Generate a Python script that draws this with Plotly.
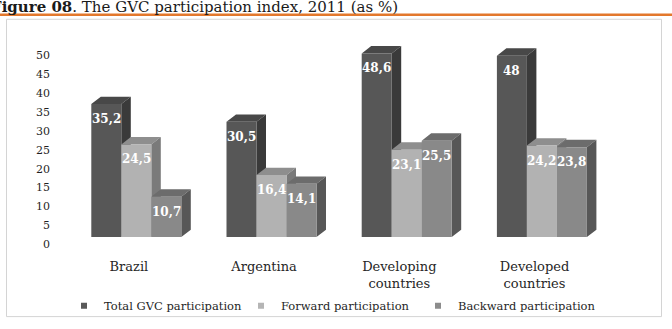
import plotly.graph_objects as go

# ---------------- data ----------------
categories = ["Brazil", "Argentina", "Developing<br>countries", "Developed<br>countries"]
series_names = ["Total GVC participation", "Forward participation", "Backward participation"]
total_gvc = [35.2, 30.5, 48.6, 48]
forward_part = [24.5, 16.4, 23.1, 24.2]
backward_part = [10.7, 14.1, 25.5, 23.8]
y_ticks = [0, 5, 10, 15, 20, 25, 30, 35, 40, 45, 50]
title_text = "<b>Figure 08</b>. The GVC participation index, 2011 (as %)"

# ---------------- style ----------------
W, H = 672, 329
PX_PER_CAT = 135.2
CAT0_PX = 128.9
X_LEFT = CAT0_PX - 0.5 * PX_PER_CAT
X_RIGHT = CAT0_PX + 3.5 * PX_PER_CAT
PX_PER_UNIT = 3.826
BAR_ZERO_PX = 240.0
TICK_ZERO_PX = 247.3
PLOT_TOP, PLOT_BOTTOM = 40.0, 250.0
BAR_W_PX = 30.0
FRONT_SHIFT_PX = 7.4
DEPTH_X_PX, DEPTH_Y_PX = 9.5, 7.5

front_cols = ["#575757", "#b2b2b2", "#898989"]
top_cols = ["#484848", "#8e8e8e", "#6c6c6c"]
side_cols = ["#3a3a3a", "#7a7a7a", "#575757"]
legend_cols = ["#595959", "#b5b5b5", "#8c8c8c"]

SERIF = "DejaVu Serif"

w = BAR_W_PX / PX_PER_CAT
shift = FRONT_SHIFT_PX / PX_PER_CAT
dx = DEPTH_X_PX / PX_PER_CAT
dy = DEPTH_Y_PX / PX_PER_UNIT

bar_range = [(BAR_ZERO_PX - PLOT_BOTTOM) / PX_PER_UNIT, (BAR_ZERO_PX - PLOT_TOP) / PX_PER_UNIT]
tick_range = [(TICK_ZERO_PX - PLOT_BOTTOM) / PX_PER_UNIT, (TICK_ZERO_PX - PLOT_TOP) / PX_PER_UNIT]

fig = go.Figure()

all_series = [total_gvc, forward_part, backward_part]

# 3D depth faces (drawn underneath the front faces)
for j, vals in enumerate(all_series):
    tx, ty, sx, sy = [], [], [], []
    for i, v in enumerate(vals):
        c = i + shift + (j - 1) * w
        l, r = c - w / 2, c + w / 2
        tx += [l, r, r + dx, l + dx, l, None]
        ty += [v, v, v + dy, v + dy, v, None]
        sx += [r, r, r + dx, r + dx, r, None]
        sy += [0, v, v + dy, dy, 0, None]
    fig.add_trace(go.Scatter(x=tx, y=ty, mode="lines", fill="toself", fillcolor=top_cols[j],
                             line=dict(width=0), hoverinfo="skip", showlegend=False, yaxis="y"))
    fig.add_trace(go.Scatter(x=sx, y=sy, mode="lines", fill="toself", fillcolor=side_cols[j],
                             line=dict(width=0), hoverinfo="skip", showlegend=False, yaxis="y"))

# front faces (bars) + value labels
value_annotations = []
for j, vals in enumerate(all_series):
    xs = [i + shift + (j - 1) * w for i in range(len(vals))]
    labels = [f"{v:g}".replace(".", ",") for v in vals]
    fig.add_trace(go.Bar(
        x=xs, y=vals, width=w, yaxis="y2",
        marker=dict(color=front_cols[j], line=dict(width=0)),
        hoverinfo="skip", showlegend=False,
    ))
    for xv, v, lab in zip(xs, vals, labels):
        value_annotations.append(dict(
            text=lab, x=xv, y=v, xref="x", yref="y2", xanchor="center", yanchor="top",
            yshift=-6, showarrow=False,
            font=dict(family=SERIF, size=12, color="white", weight="bold")))

# legend entries
for j, name in enumerate(series_names):
    fig.add_trace(go.Scatter(x=[None], y=[None], mode="markers", name=name,
                             marker=dict(symbol="square", size=6, color=legend_cols[j]),
                             yaxis="y", hoverinfo="skip"))

# dummy trace for tick-label axis
fig.add_trace(go.Scatter(x=[None], y=[None], yaxis="y3", showlegend=False, hoverinfo="skip"))

fig.update_layout(
    width=W, height=H,
    margin=dict(l=0, r=0, t=0, b=0),
    paper_bgcolor="white", plot_bgcolor="rgba(0,0,0,0)",
    barmode="overlay",
    xaxis=dict(range=[-0.5, 3.5], domain=[X_LEFT / W, X_RIGHT / W],
               tickvals=list(range(len(categories))), ticktext=categories,
               showgrid=False, zeroline=False, showline=False, ticks="",
               tickfont=dict(family=SERIF, size=13, color="#262626"),
               ticklabelstandoff=10, fixedrange=True),
    yaxis=dict(domain=[1 - PLOT_BOTTOM / H, 1 - PLOT_TOP / H], range=bar_range,
               visible=False, fixedrange=True),
    yaxis2=dict(overlaying="y", range=bar_range, visible=False, fixedrange=True),
    yaxis3=dict(overlaying="y", range=tick_range, anchor="free", position=50 / W,
                tickvals=y_ticks, showgrid=False, zeroline=False, showline=False, ticks="",
                tickfont=dict(family=SERIF, size=11, color="#1f1f1f"), fixedrange=True),
    legend=dict(orientation="h", x=64 / W, xanchor="left", y=1 - 309.5 / H, yanchor="middle",
                font=dict(family=SERIF, size=11.5, color="#1f1f1f"),
                entrywidth=132, entrywidthmode="pixels", bgcolor="rgba(0,0,0,0)",
                itemclick=False, itemdoubleclick=False),
    showlegend=True,
    shapes=[
        dict(type="line", xref="paper", yref="paper", x0=0, x1=1,
             y0=1 - 15 / H, y1=1 - 15 / H, line=dict(color="#e3782c", width=2.5)),
        dict(type="rect", xref="paper", yref="paper", x0=6.5 / W, x1=661.5 / W,
             y0=1 - 320.5 / H, y1=1 - 19.5 / H, line=dict(color="#d4d4d4", width=1),
             fillcolor="rgba(0,0,0,0)", layer="below"),
    ],
    annotations=[
        dict(text=title_text, xref="paper", yref="paper", x=-11 / W, xanchor="left",
             y=1 - 7 / H, yanchor="middle", showarrow=False,
             font=dict(family=SERIF, size=15, color="#1a1a1a")),
    ] + value_annotations,
)

fig.write_html("out.html")
